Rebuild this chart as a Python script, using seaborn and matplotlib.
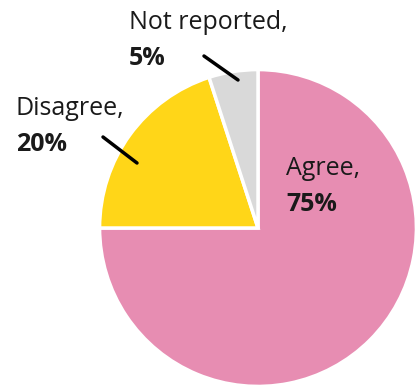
import matplotlib
matplotlib.use("Agg")
import matplotlib.pyplot as plt
import seaborn as sns

labels = ["Agree", "Disagree", "Not reported"]
shares = [75, 20, 5]
colors = ["#E78DB2", "#FFD618", "#D9D9D9"]

# label anchors (figure pixels, from top-left) and leader lines
label_pos = {"Agree": (286, 156), "Disagree": (16, 96), "Not reported": (129, 10)}
leaders = {"Disagree": ((103, 137), (137, 163)), "Not reported": ((204, 56), (238, 80))}

sns.set_theme(style="white")
plt.rcParams["font.family"] = ["Open Sans", "DejaVu Sans"]

W, H = 420, 390
fig = plt.figure(figsize=(W / 100, H / 100), dpi=100)
ax = fig.add_axes([98 / W, 2 / H, 320 / W, 320 / H])
ax.pie(shares, colors=colors, startangle=90, counterclock=False,
       wedgeprops=dict(edgecolor="white", linewidth=2.5))
ax.set_xlim(-1.01, 1.01)
ax.set_ylim(-1.01, 1.01)
ax.set_aspect("equal")

for name, share in zip(labels, shares):
    x, y = label_pos[name]
    fig.text(x / W, 1 - y / H, f"{name},", fontsize=18, color="#1a1a1a", va="top", ha="left")
    fig.text(x / W, 1 - (y + 36) / H, f"{share}%", fontsize=18, fontweight="bold",
             color="#1a1a1a", va="top", ha="left")

for name, (p0, p1) in leaders.items():
    fig.add_artist(plt.Line2D([p0[0] / W, p1[0] / W], [1 - p0[1] / H, 1 - p1[1] / H],
                              transform=fig.transFigure, color="black", linewidth=2.5))

fig.savefig("out.png", dpi=100)
